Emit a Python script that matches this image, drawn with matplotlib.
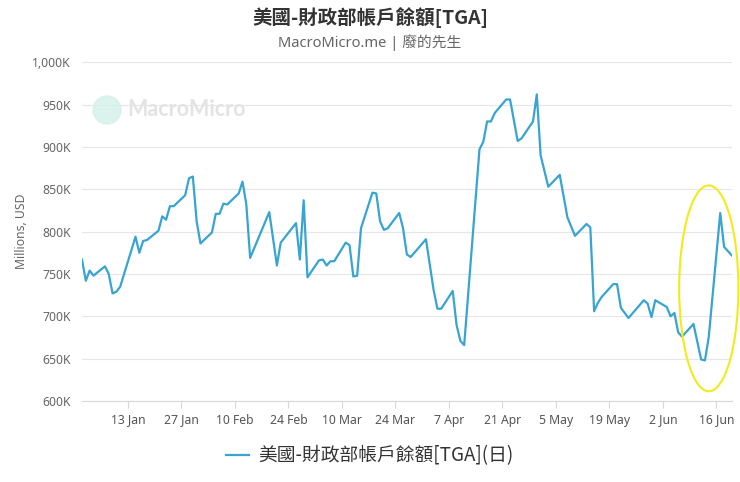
import matplotlib
matplotlib.use("Agg")
import matplotlib.pyplot as plt
import matplotlib.dates as mdates
from matplotlib.patches import Ellipse
from matplotlib.ticker import FuncFormatter, MultipleLocator
import pandas as pd

plt.rcParams['font.family'] = ['Noto Sans', 'Noto Sans CJK TC', 'DejaVu Sans']

# TGA balance, millions USD (in K)
dates = [
    "2025-01-01", "2025-01-02", "2025-01-03", "2025-01-04", "2025-01-07", "2025-01-08",
    "2025-01-09", "2025-01-10", "2025-01-11", "2025-01-15", "2025-01-16", "2025-01-17",
    "2025-01-18", "2025-01-21", "2025-01-22", "2025-01-23", "2025-01-24", "2025-01-25",
    "2025-01-28", "2025-01-29", "2025-01-30", "2025-01-31", "2025-02-01", "2025-02-04",
    "2025-02-05", "2025-02-06", "2025-02-07", "2025-02-08", "2025-02-11", "2025-02-12",
    "2025-02-13", "2025-02-14", "2025-02-19", "2025-02-21", "2025-02-22", "2025-02-26",
    "2025-02-27", "2025-02-28", "2025-03-01", "2025-03-04", "2025-03-05", "2025-03-06",
    "2025-03-07", "2025-03-08", "2025-03-11", "2025-03-12", "2025-03-13", "2025-03-14",
    "2025-03-15", "2025-03-18", "2025-03-19", "2025-03-20", "2025-03-21", "2025-03-22",
    "2025-03-25", "2025-03-26", "2025-03-27", "2025-03-28", "2025-04-01", "2025-04-03",
    "2025-04-04", "2025-04-05", "2025-04-08", "2025-04-09", "2025-04-10", "2025-04-11",
    "2025-04-15", "2025-04-16", "2025-04-17", "2025-04-18", "2025-04-19", "2025-04-22",
    "2025-04-23", "2025-04-25", "2025-04-26", "2025-04-29", "2025-04-30", "2025-05-01",
    "2025-05-03", "2025-05-06", "2025-05-08", "2025-05-10", "2025-05-13", "2025-05-14",
    "2025-05-15", "2025-05-16", "2025-05-17", "2025-05-20", "2025-05-21", "2025-05-22",
    "2025-05-24", "2025-05-28", "2025-05-29", "2025-05-30", "2025-05-31", "2025-06-03",
    "2025-06-04", "2025-06-05", "2025-06-06", "2025-06-07", "2025-06-10", "2025-06-12",
    "2025-06-13", "2025-06-14", "2025-06-17", "2025-06-18", "2025-06-20",
]
tga = [
    767, 742, 754, 748, 759, 750,
    727, 729, 735, 794, 775, 789,
    790, 801, 818, 814, 830, 830,
    843, 863, 865, 812, 786, 799,
    821, 821, 833, 832, 845, 859,
    832, 769, 823, 760, 787, 810,
    767, 837, 746, 766, 767, 760,
    765, 765, 787, 784, 747, 748,
    804, 846, 845, 812, 802, 804,
    822, 804, 773, 770, 791, 731,
    709, 709, 730, 690, 671, 666,
    897, 906, 930, 930, 940, 956,
    956, 907, 910, 930, 962, 890,
    853, 867, 817, 795, 809, 805,
    706, 716, 723, 738, 738, 710,
    698, 719, 715, 699, 719, 711,
    700, 704, 681, 676, 691, 649,
    648, 676, 822, 782, 772,
]
tick_dates = ["2025-01-13", "2025-01-27", "2025-02-10", "2025-02-24", "2025-03-10",
              "2025-03-24", "2025-04-07", "2025-04-21", "2025-05-05", "2025-05-19",
              "2025-06-02", "2025-06-16"]

x = pd.to_datetime(dates)
line_color = '#38a4d2'

fig = plt.figure(figsize=(7.4, 4.82), dpi=100)
ax = fig.add_axes([0.1108, 0.168, 0.878, 0.703])

ax.plot(x, tga, color=line_color, lw=1.6, label='美國-財政部帳戶餘額[TGA](日)', zorder=3)

ax.set_xlim(x[0], x[-1])
ax.set_ylim(600, 1000)
ax.yaxis.set_major_locator(MultipleLocator(50))
ax.yaxis.set_major_formatter(FuncFormatter(lambda v, p: f"{int(v):,}K"))
ax.set_xticks(pd.to_datetime(tick_dates))
ax.xaxis.set_major_formatter(mdates.DateFormatter('%-d %b'))

ax.grid(axis='y', color='#e6e6e6', lw=0.8)
for s in ['top', 'right', 'left']:
    ax.spines[s].set_visible(False)
ax.spines['bottom'].set_color('#d8d8d8')
ax.tick_params(axis='y', length=0, colors='#666666', labelsize=8.8, pad=8)
ax.tick_params(axis='x', length=5, color='#d8d8d8', colors='#555555', labelsize=8.8, pad=4)
ax.set_ylabel('Millions, USD', color='#666666', fontsize=8.8, labelpad=3)

# yellow highlight around the June jump
ell = Ellipse((mdates.date2num(pd.Timestamp("2025-06-14")), 733), width=15.5, height=243,
              fill=False, edgecolor='#f2ea1c', lw=1.5, clip_on=False, zorder=4)
ax.add_patch(ell)

# watermark
fig.patches.append(Ellipse((107 / 740, 1 - 110 / 482), 28 / 740, 28 / 482,
                           transform=fig.transFigure, color='#d3f1e8', alpha=0.8))
fig.text(127 / 740, 1 - 110 / 482, 'MacroMicro', fontsize=15.5, color='#e3e3e3',
         fontweight='bold', va='center', ha='left', family=['Lato', 'DejaVu Sans'])

fig.text(0.5, 1 - 18 / 482, '美國-財政部帳戶餘額[TGA]', ha='center', va='center',
         fontsize=14, fontweight='bold', color='#333333',
         family=['Noto Sans CJK TC', 'DejaVu Sans'])
fig.text(0.5, 1 - 43 / 482, 'MacroMicro.me | 廢的先生', ha='center', va='center',
         fontsize=10.6, color='#666666', family=['Noto Sans', 'Noto Sans CJK TC'])

leg = fig.legend(loc='center', bbox_to_anchor=(0.5, 1 - 456 / 482), frameon=False,
                 handlelength=1.2, handletextpad=0.5,
                 prop={'family': ['Noto Sans CJK TC', 'DejaVu Sans'], 'size': 13.5})
for t in leg.get_texts():
    t.set_color('#333333')

fig.savefig('out.png', dpi=100)
